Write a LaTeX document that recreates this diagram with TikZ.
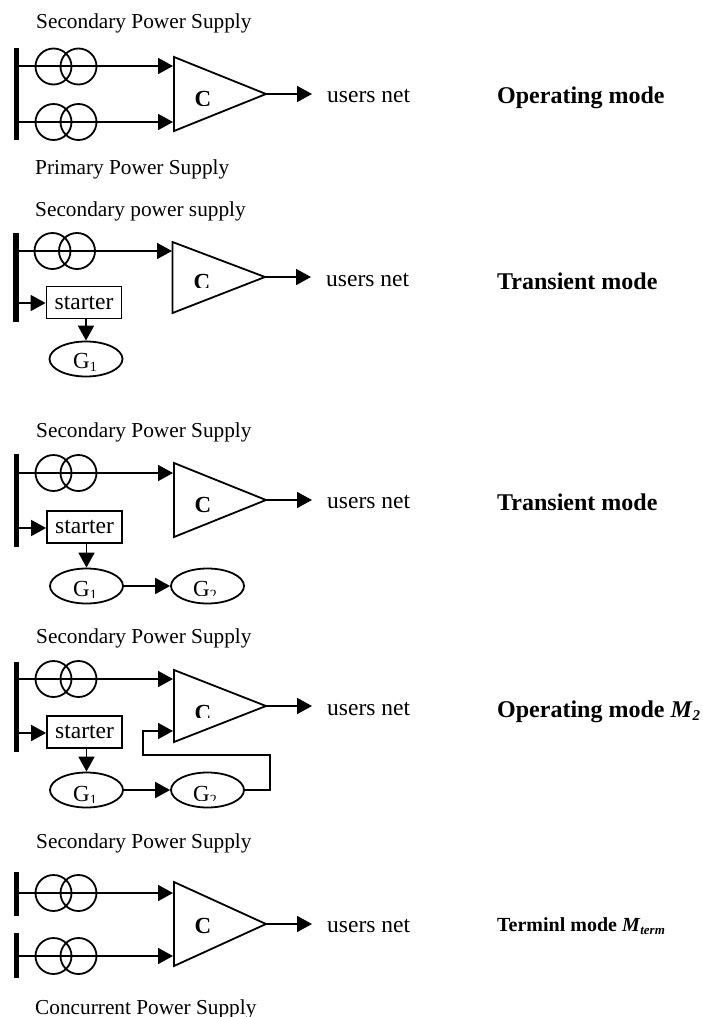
\documentclass[tikz,border=0pt]{standalone}
\usepackage{fontspec}
\setmainfont{Liberation Serif}
\usetikzlibrary{arrows.meta,shapes.geometric}
\newcommand{\fsz}[1]{\fontsize{#1}{#1}\selectfont}
\newcommand{\subgen}[1]{\raisebox{-3.2pt}{\fsz{14}#1}}
\newcommand{\cliptxt}[5]{\begin{scope}\clip (#2-30,#3-30) rectangle (#2+30,#4);\node[plain,anchor=base] (#1) at (#2,#3) {#5};\end{scope}}
\tikzset{
  lbl/.style={anchor=base west,inner sep=0pt,font=\fsz{21.3}},
  net/.style={anchor=base west,inner sep=0pt,font=\fsz{23.5}},
  mode/.style={anchor=base west,inner sep=0pt,font=\fsz{24}\bfseries},
  plain/.style={inner sep=0pt,font=\fsz{23}},
  bus/.style={line width=5.5pt,draw=black},
  wire/.style={line width=1.8pt,draw=black,line join=miter},
  arr/.style={wire,-{Triangle[length=15pt,width=16pt]}},
  coil/.style={circle,draw=black,line width=1.8pt,minimum size=36pt,inner sep=0pt},
  startbox/.style={rectangle,draw=black,line width=1.8pt,minimum width=75pt,minimum height=32pt,inner sep=0pt,font=\fsz{23.5}},
  gen/.style={ellipse,draw=black,line width=1.8pt,minimum width=73pt,minimum height=35pt,inner sep=0pt},
  amp/.style={draw=black,line width=1.8pt,line join=miter},
}
\begin{document}
\begin{tikzpicture}[x=1pt,y=-1pt]
\useasboundingbox (0,0) rectangle (702,1017);
% ---------- panel 1
\node[lbl] (l1a) at (36,28.5) {Secondary Power Supply};
\node[lbl] (l1b) at (35,174.5) {Primary Power Supply};
\coordinate (b1t) at (16.5,48); \coordinate (b1b) at (16.5,140);
\draw[bus] (b1t) -- (b1b);
\coordinate (b1u) at (16.5,66); \coordinate (b1d) at (16.5,122);
\coordinate (a1a) at (174,57); \coordinate (a1b) at (174,131); \coordinate (a1c) at (266,94);
\coordinate (a1u) at (173,66); \coordinate (a1d) at (173,122); \coordinate (o1) at (312,94);
\node[coil] (t1a) at (53.5,66.5) {}; \node[coil] (t1b) at (78.5,66.5) {};
\node[coil] (t1c) at (53.5,122) {}; \node[coil] (t1d) at (78.5,122) {};
\draw[amp] (a1a) -- (a1c) -- (a1b) -- cycle;
\draw[arr] (b1u) -- (a1u);
\draw[arr] (b1d) -- (a1d);
\draw[arr] (a1c) -- (o1);
\cliptxt{c1}{203}{106.5}{105}{\bfseries C}
\node[net] (n1) at (327,102) {users net};
\node[mode] (m1) at (497,103) {Operating mode};
% ---------- panel 2
\node[lbl] (l2a) at (35,216.5) {Secondary power supply};
\coordinate (b2t) at (16,233); \coordinate (b2b) at (16,322);
\draw[bus] (b2t) -- (b2b);
\coordinate (b2u) at (16,251); \coordinate (b2d) at (16,303);
\coordinate (a2a) at (172.5,242); \coordinate (a2b) at (172.5,313); \coordinate (a2c) at (265,277);
\coordinate (a2u) at (172,251); \coordinate (o2) at (311,277);
\node[coil] (t2a) at (52.5,251) {}; \node[coil] (t2b) at (77,251) {};
\draw[amp] (a2a) -- (a2c) -- (a2b) -- cycle;
\draw[arr] (b2u) -- (a2u);
\draw[arr] (a2c) -- (o2);
\cliptxt{c2}{202}{289}{287}{\bfseries C}
\node[net] (n2) at (326,286) {users net};
\node[mode] (m2) at (497,289) {Transient mode};
\node[startbox] (s2) at (84,302.5) {starter};
\node[gen] (g2a) at (86,359) {};
\node[plain,anchor=base] (g2at) at (85,368) {G\subgen{1}};
\draw[arr] (b2d) -- (b2d -| s2.west);
\draw[arr] (s2.south -| g2a.north) -- (g2a.north);
% ---------- panel 3
\node[lbl] (l3a) at (36,437.5) {Secondary Power Supply};
\coordinate (b3t) at (16.5,454); \coordinate (b3b) at (16.5,547);
\draw[bus] (b3t) -- (b3b);
\coordinate (b3u) at (16.5,473); \coordinate (b3d) at (16.5,528);
\coordinate (a3a) at (174,463); \coordinate (a3b) at (174,537); \coordinate (a3c) at (266,500);
\coordinate (a3u) at (173,473); \coordinate (o3) at (312,500);
\node[coil] (t3a) at (53.5,473) {}; \node[coil] (t3b) at (78.5,473) {};
\draw[amp] (a3a) -- (a3c) -- (a3b) -- cycle;
\draw[arr] (b3u) -- (a3u);
\draw[arr] (a3c) -- (o3);
\node[plain,anchor=base] (c3) at (203,512) {\bfseries C};
\node[net] (n3) at (327,508) {users net};
\node[mode] (m3) at (497,510) {Transient mode};
\node[startbox] (s3) at (84.5,527) {starter};
\node[gen] (g3a) at (86.5,586) {};
\node[gen] (g3b) at (207.5,586) {};
\cliptxt{g3at}{85}{596}{597}{G\subgen{1}}
\cliptxt{g3bt}{205}{596}{595}{G\subgen{2}}
\draw[arr] (b3d) -- (b3d -| s3.west);
\draw[arr] (s3.south -| g3a.north) -- (g3a.north);
\draw[arr] (g3a) -- (g3b);
% ---------- panel 4
\node[lbl] (l4a) at (36,643.5) {Secondary Power Supply};
\coordinate (b4t) at (16.5,662); \coordinate (b4b) at (16.5,752);
\draw[bus] (b4t) -- (b4b);
\coordinate (b4u) at (16.5,679); \coordinate (b4d) at (16.5,733);
\coordinate (a4a) at (174,670); \coordinate (a4b) at (174,742); \coordinate (a4c) at (266,706);
\coordinate (a4u) at (173,679); \coordinate (a4v) at (173,731); \coordinate (o4) at (312,706);
\coordinate (w4a) at (270,790); \coordinate (w4b) at (270,755); \coordinate (w4c) at (143,755); \coordinate (w4d) at (143,731);
\node[coil] (t4a) at (53.5,679) {}; \node[coil] (t4b) at (78.5,679) {};
\draw[amp] (a4a) -- (a4c) -- (a4b) -- cycle;
\draw[arr] (b4u) -- (a4u);
\draw[arr] (a4c) -- (o4);
\cliptxt{c4}{203}{720}{717}{\bfseries C}
\node[net] (n4) at (327,715) {users net};
\node[mode] (m4) at (497,717) {Operating mode \textit{M}\raisebox{-3.5pt}{\fsz{15}\textit{2}}};
\node[startbox] (s4) at (84.5,732) {starter};
\node[gen] (g4a) at (86.5,790) {};
\node[gen] (g4b) at (207.5,790) {};
\cliptxt{g4at}{85}{801}{802}{G\subgen{1}}
\cliptxt{g4bt}{205}{801}{800}{G\subgen{2}}
\draw[arr] (b4d) -- (b4d -| s4.west);
\draw[arr] (s4.south -| g4a.north) -- (g4a.north);
\draw[arr] (g4a) -- (g4b);
\draw[arr] (g4b.east) -- (w4a) -- (w4b) -- (w4c) -- (w4d) -- (a4v);
% ---------- panel 5
\node[lbl] (l5a) at (36,848.5) {Secondary Power Supply};
\node[lbl] (l5b) at (35,1014) {Concurrent Power Supply};
\coordinate (b5t) at (16.5,872); \coordinate (b5m) at (16.5,916);
\coordinate (b5n) at (16.5,933); \coordinate (b5b) at (16.5,978);
\draw[bus] (b5t) -- (b5m);
\draw[bus] (b5n) -- (b5b);
\coordinate (b5u) at (16.5,893); \coordinate (b5d) at (16.5,956);
\coordinate (a5a) at (174,882); \coordinate (a5b) at (174,966); \coordinate (a5c) at (266,924);
\coordinate (a5u) at (173,893); \coordinate (a5d) at (173,956); \coordinate (o5) at (312,924);
\node[coil] (t5a) at (53.5,893) {}; \node[coil] (t5b) at (78.5,893) {};
\node[coil] (t5c) at (53.5,956) {}; \node[coil] (t5d) at (78.5,956) {};
\draw[amp] (a5a) -- (a5c) -- (a5b) -- cycle;
\draw[arr] (b5u) -- (a5u);
\draw[arr] (b5d) -- (a5d);
\draw[arr] (a5c) -- (o5);
\node[plain,anchor=base] (c5) at (203,933) {\bfseries C};
\node[net] (n5) at (327,932) {users net};
\node[mode,font=\fsz{20}\bfseries] (m5) at (497,931) {Terminl mode \textit{M}\raisebox{-3pt}{\fsz{13}\textit{term}}};
\end{tikzpicture}
\end{document}
